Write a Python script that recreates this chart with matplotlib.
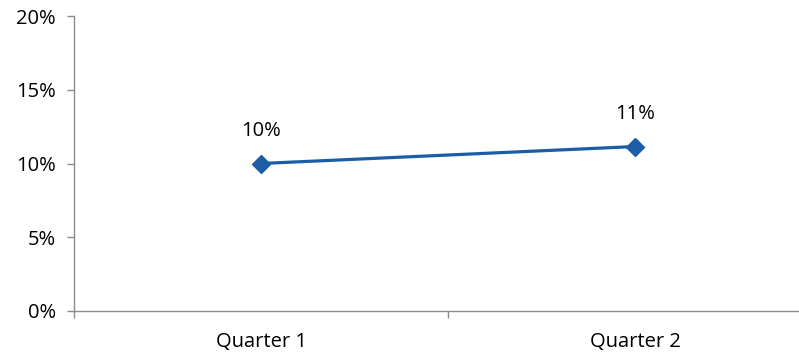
import matplotlib
matplotlib.use("Agg")
import matplotlib.pyplot as plt
from matplotlib.ticker import FixedLocator

categories = ["Quarter 1", "Quarter 2"]
values = [10.0, 11.15]
labels = ["10%", "11%"]
yticks = [0, 5, 10, 15, 20]
ytick_labels = ["0%", "5%", "10%", "15%", "20%"]

plt.rcParams['font.family'] = ['Open Sans', 'DejaVu Sans']

W, H = 799, 353
fig = plt.figure(figsize=(W / 100, H / 100), dpi=100)
ax = fig.add_axes([74 / W, (H - 311) / H, 748 / W, 295 / H])

x = list(range(len(categories)))
color = '#1B5EA6'
ax.plot(x, values, color=color, lw=2.3, marker='D', markersize=9.5,
        markerfacecolor=color, markeredgecolor=color, clip_on=False)
fs = 14.5
for xi, v, lab in zip(x, values, labels):
    ax.annotate(lab, (xi, v), xytext=(0, 23.5), textcoords='offset points',
                ha='center', va='center', fontsize=fs, color='#000000')

ax.set_xlim(-0.5, len(categories) - 0.5)
ax.set_ylim(0, 20)
ax.set_yticks(yticks)
ax.set_yticklabels(ytick_labels)
ax.set_xticks(x)
ax.set_xticklabels(categories)
ax.xaxis.set_minor_locator(FixedLocator([i - 0.5 for i in range(len(categories) + 1)]))

grey = '#8C8C8C'
for s in ['top', 'right']:
    ax.spines[s].set_visible(False)
for s in ['left', 'bottom']:
    ax.spines[s].set_color(grey)
    ax.spines[s].set_linewidth(1.0)
ax.tick_params(axis='y', length=5, color=grey, width=1, labelsize=fs, pad=8, labelcolor='#000000')
ax.tick_params(axis='x', which='major', length=0, labelsize=fs, pad=15, labelcolor='#000000')
ax.tick_params(axis='x', which='minor', length=5, color=grey, width=1)

fig.savefig("out.png", dpi=100)
